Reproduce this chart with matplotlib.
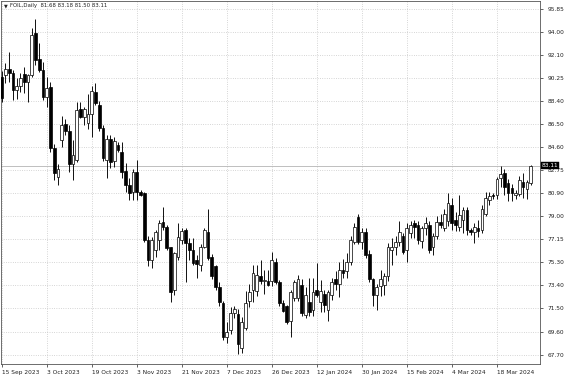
import matplotlib
matplotlib.use("Agg")
import matplotlib.pyplot as plt
import matplotlib.transforms as mtransforms

# daily OHLC (bar index 0 = 15 Sep 2023)
opens = [
    90.34, 90.48, 90.94, 90.62, 89.26, 89.58, 90.53, 89.90, 90.48, 93.87,
    91.75, 90.89, 88.67, 89.48, 84.50, 82.20, 85.19, 86.50, 85.95, 83.24,
    83.60, 87.70, 87.10, 86.60, 87.30, 89.10, 88.04, 86.14, 83.60, 85.30,
    83.50, 84.80, 84.20, 82.70, 81.50, 81.00, 82.60, 81.00, 80.90, 77.05,
    75.40, 76.20, 77.05, 78.50, 78.10, 76.50, 73.00, 75.70, 77.05, 77.85,
    76.80, 76.20, 75.40, 75.00, 76.50, 77.70, 75.70, 74.90, 73.25, 71.90,
    69.20, 69.70, 71.10, 71.00, 68.25, 69.90, 72.10, 73.00, 72.90, 74.10,
    73.70, 73.75, 73.70, 75.30, 73.67, 71.90, 71.70, 70.50, 72.30, 72.30,
    73.40, 70.95, 72.00, 71.36, 73.00, 72.00, 72.70, 71.36, 72.60, 73.85,
    73.50, 74.60, 74.50, 75.30, 76.90, 78.90, 76.90, 77.70, 75.90, 73.85,
    72.60, 73.30, 73.40, 74.10, 76.20, 76.50, 76.90, 77.40, 76.20, 77.60,
    78.40, 78.30, 77.00, 78.00, 78.30, 76.50, 77.40, 78.50, 78.00, 78.60,
    79.90, 78.70, 78.10, 78.70, 79.50, 77.90, 77.70, 78.00, 77.90, 79.20,
    80.30, 80.70, 80.70, 82.10, 82.50, 81.70, 81.30, 80.70, 80.80, 81.80,
    81.20, 81.68,
]
highs = [
    90.80, 91.43, 92.38, 90.89, 90.21, 90.62, 91.16, 90.60, 94.28, 95.00,
    93.06, 91.50, 90.34, 89.90, 84.90, 83.20, 87.14, 86.90, 86.40, 85.20,
    88.30, 88.30, 87.90, 88.90, 89.60, 89.85, 88.40, 86.40, 85.60, 85.60,
    85.40, 85.00, 85.00, 83.30, 82.10, 82.80, 83.60, 81.10, 81.00, 77.40,
    77.30, 77.90, 78.70, 79.76, 78.30, 76.50, 76.10, 78.40, 78.00, 78.00,
    77.20, 77.20, 75.80, 76.70, 78.00, 79.60, 75.90, 75.00, 73.60, 72.10,
    70.40, 71.60, 71.70, 71.40, 70.80, 72.90, 73.50, 75.00, 75.00, 75.40,
    74.60, 74.60, 76.10, 75.60, 73.80, 72.20, 71.80, 73.00, 73.80, 74.20,
    73.90, 73.20, 74.00, 74.00, 75.15, 73.80, 73.00, 73.00, 74.00, 74.50,
    75.30, 75.50, 76.00, 77.40, 78.40, 79.20, 78.00, 78.00, 76.20, 74.00,
    73.50, 74.60, 74.40, 76.80, 77.20, 77.40, 78.60, 77.60, 78.40, 78.60,
    78.70, 78.60, 78.20, 78.90, 78.60, 77.60, 79.00, 79.20, 79.60, 80.85,
    80.50, 79.30, 80.70, 79.70, 79.70, 78.00, 78.40, 78.70, 79.90, 81.00,
    81.00, 80.85, 82.20, 83.10, 82.80, 82.00, 81.60, 81.10, 82.30, 82.50,
    81.90, 83.18,
]
lows = [
    88.30, 89.80, 89.93, 88.45, 88.50, 89.12, 89.04, 88.30, 90.30, 91.29,
    90.75, 88.45, 87.90, 84.20, 81.90, 81.50, 84.65, 85.60, 82.60, 81.90,
    83.40, 86.98, 86.40, 86.10, 85.46, 88.00, 85.90, 83.50, 82.10, 82.90,
    83.00, 84.20, 82.10, 81.00, 80.30, 80.30, 80.30, 80.60, 76.90, 74.90,
    74.80, 75.70, 76.20, 77.90, 76.20, 72.03, 72.60, 75.40, 76.70, 73.67,
    75.40, 75.00, 73.96, 74.50, 76.40, 75.40, 73.90, 73.00, 71.70, 68.90,
    68.70, 69.40, 70.70, 67.75, 67.90, 69.70, 71.60, 72.00, 72.50, 73.50,
    72.70, 73.30, 73.30, 73.50, 71.70, 71.20, 70.20, 69.20, 72.10, 72.10,
    70.90, 70.70, 70.90, 70.90, 72.40, 71.20, 71.20, 70.50, 72.20, 73.00,
    72.40, 74.00, 74.00, 75.00, 76.70, 76.70, 76.30, 75.60, 73.60, 71.70,
    71.36, 72.50, 72.60, 73.70, 75.00, 75.80, 76.60, 75.90, 75.30, 77.20,
    77.20, 76.70, 76.40, 77.50, 76.00, 75.80, 77.10, 78.00, 77.80, 78.20,
    77.90, 77.80, 77.80, 77.60, 77.50, 77.50, 76.80, 77.30, 77.60, 79.00,
    79.90, 80.40, 80.40, 81.40, 80.70, 80.20, 80.20, 80.40, 80.60, 80.50,
    80.40, 81.50,
]
closes = [
    88.58, 90.94, 90.62, 89.26, 89.58, 90.26, 89.93, 90.50, 93.73, 91.70,
    90.89, 88.67, 89.40, 84.50, 82.48, 82.80, 86.41, 85.90, 83.24, 84.00,
    87.63, 87.10, 87.70, 87.30, 89.20, 88.20, 86.14, 83.70, 85.30, 83.40,
    85.10, 84.40, 82.60, 81.50, 80.85, 82.60, 81.00, 80.70, 77.05, 75.40,
    77.05, 77.70, 78.46, 78.10, 76.40, 72.85, 75.97, 77.30, 77.80, 76.80,
    76.20, 75.15, 75.10, 76.50, 77.85, 75.60, 74.10, 73.25, 72.00, 69.20,
    69.60, 71.10, 71.40, 68.60, 70.40, 71.90, 72.85, 74.35, 74.20, 73.75,
    73.80, 73.40, 75.40, 73.67, 71.90, 71.30, 70.40, 72.85, 73.67, 73.85,
    71.10, 72.60, 71.20, 72.85, 72.60, 72.90, 71.80, 72.85, 73.67, 73.50,
    74.60, 74.40, 75.30, 77.05, 78.10, 76.90, 77.70, 75.85, 73.85, 72.60,
    73.20, 73.85, 74.10, 76.50, 76.50, 76.90, 77.70, 76.10, 78.00, 78.30,
    78.10, 77.05, 78.00, 78.40, 76.20, 77.40, 78.50, 78.30, 79.20, 80.10,
    78.40, 78.30, 79.10, 79.50, 77.90, 77.70, 78.10, 77.80, 79.60, 80.45,
    80.60, 80.60, 82.05, 82.40, 81.40, 80.85, 80.90, 80.85, 81.90, 81.40,
    81.80, 83.11,
]

price_levels = [95.85, 94.00, 92.10, 90.25, 88.40, 86.50, 84.60, 82.75,
                80.90, 79.00, 77.15, 75.30, 73.40, 71.50, 69.60, 67.70]
date_pos = [0, 12, 24, 36, 48, 60, 72, 84, 96, 108, 120, 132]
date_labels = ["15 Sep 2023", "3 Oct 2023", "19 Oct 2023", "3 Nov 2023",
               "21 Nov 2023", "7 Dec 2023", "26 Dec 2023", "12 Jan 2024",
               "30 Jan 2024", "15 Feb 2024", "4 Mar 2024", "18 Mar 2024"]
symbol = "FOIL,Daily"
last_bid = closes[-1]

plt.rcParams.update({"font.family": "DejaVu Sans", "font.size": 4})

fig = plt.figure(figsize=(5.64, 3.76), dpi=100)
ax = fig.add_axes([1 / 564, 12 / 376, 539 / 564, 363 / 376])

idx = list(range(len(opens)))
ax.vlines(idx, lows, highs, color="black", lw=0.65, zorder=3)
bottoms = [min(o, c) for o, c in zip(opens, closes)]
heights = [max(abs(c - o), 0.03) for o, c in zip(opens, closes)]
faces = ["white" if c >= o else "black" for o, c in zip(opens, closes)]
ax.bar(idx, heights, bottom=bottoms, width=0.72, color=faces,
       edgecolor="black", linewidth=0.5, zorder=4)

ax.axhline(last_bid, color="#b4b4b4", lw=0.6, zorder=2)

ax.set_xlim(-0.19, 143.5)
ax.set_ylim(66.965, 96.50)

ax.yaxis.tick_right()
ax.set_yticks(price_levels)
ax.set_yticklabels([f"{p:.2f}" for p in price_levels])
ax.set_xticks(date_pos)
ax.set_xticklabels(date_labels, ha="left")
ax.tick_params(axis="both", length=2.5, width=0.5, labelsize=4.2,
               colors="#222222", pad=1.5)
ax.tick_params(axis="y", pad=3)

ax.grid(True, ls=(0, (1, 2)), color="#bdbdbd", lw=0.55, zorder=0)
for sp in ax.spines.values():
    sp.set_linewidth(0.6)
    sp.set_color("#555555")

# price tag on the right axis
trans = mtransforms.blended_transform_factory(ax.transAxes, ax.transData)
ax.text(1.003, last_bid, f"{last_bid:.2f}", transform=trans, color="white",
        fontsize=4.2, va="center", ha="left", zorder=6, clip_on=False,
        bbox=dict(boxstyle="square,pad=0.15", fc="black", ec="black", lw=0.3))

fig.text(4 / 564, 1 - 6 / 376, "\u25bc", fontsize=3.5, va="center",
         ha="left", color="#222222")
fig.text(10 / 564, 1 - 6 / 376,
         f"{symbol}  {opens[-1]:.2f} {highs[-1]:.2f} {lows[-1]:.2f} {closes[-1]:.2f}",
         fontsize=3.9, va="center", ha="left", color="#222222")

fig.savefig("out.png", dpi=100)
